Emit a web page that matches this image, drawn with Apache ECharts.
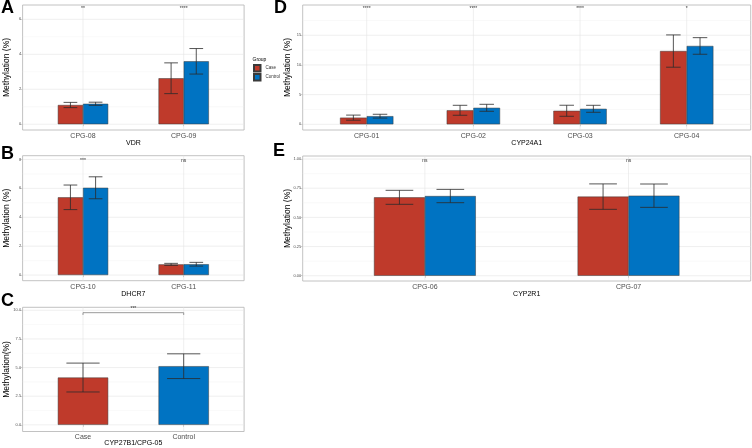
<!DOCTYPE html>
<html><head><meta charset="utf-8">
<script src="https://cdn.jsdelivr.net/npm/echarts@6/dist/echarts.min.js"></script>
<style>html,body{margin:0;padding:0;background:#fff}#c{width:752px;height:448px}</style>
</head><body><div id="c"></div>
<script>
// ---------- DATA ----------
// Panel A: VDR
const catsA = ['CPG-08', 'CPG-09'];
const caseA = [1.10, 2.63];
const caseErrA = [0.15, 0.88];
const ctrlA = [1.17, 3.60];
const ctrlErrA = [0.09, 0.73];
const sigA = ['**', '****'];
const yTicksA = [0, 2, 4, 6];
const yMinorA = [1, 3, 5];
// Panel B: DHCR7
const catsB = ['CPG-10', 'CPG-11'];
const caseB = [5.38, 0.74];
const caseErrB = [0.85, 0.07];
const ctrlB = [6.04, 0.75];
const ctrlErrB = [0.76, 0.13];
const sigB = ['***', 'ns'];
const yTicksB = [0, 2, 4, 6, 8];
const yMinorB = [1, 3, 5, 7];
// Panel C: CYP27B1/CPG-05
const catsC = ['Case', 'Control'];
const valsC = [4.13, 5.12];
const errC = [1.26, 1.08];
const sigC = ['***'];
const yTicksC = [0, 2.5, 5, 7.5, 10];
const yMinorC = [1.25, 3.75, 6.25, 8.75];
// Panel D: CYP24A1
const catsD = ['CPG-01', 'CPG-02', 'CPG-03', 'CPG-04'];
const caseD = [1.12, 2.36, 2.28, 12.34];
const caseErrD = [0.43, 0.84, 0.93, 2.72];
const ctrlD = [1.37, 2.78, 2.61, 13.2];
const ctrlErrD = [0.32, 0.59, 0.59, 1.40];
const sigD = ['****', '****', '****', '*'];
const yTicksD = [0, 5, 10, 15];
const yMinorD = [2.5, 7.5, 12.5, 17.5];
// Panel E: CYP2R1
const catsE = ['CPG-06', 'CPG-07'];
const caseE = [0.672, 0.678];
const caseErrE = [0.060, 0.109];
const ctrlE = [0.683, 0.686];
const ctrlErrE = [0.057, 0.100];
const sigE = ['ns', 'ns'];
const yTicksE = [0, 0.25, 0.5, 0.75, 1];
const yMinorE = [0.125, 0.375, 0.625, 0.875];

// ---------- LAYOUT / STYLE ----------
const FF = '"Liberation Sans", Arial, Helvetica, sans-serif';
const RED = '#BF3A2B', BLUE = '#0073C2';
const panels = [
  {letter:'A', cats:catsA, gene:'VDR', yName:'Methylation (%)', groups:[{name:'Case',vals:caseA,err:caseErrA,color:RED},{name:'Control',vals:ctrlA,err:ctrlErrA,color:BLUE}],
   sig:sigA, ticks:yTicksA, minor:yMinorA, dec:0, box:[22.6,5,221.5,125], yMin:-0.33, yMax:6.82, sigY:6.62, yNameGap:11.3, xNameGap:9.5, letterPos:[1,-1]},
  {letter:'B', cats:catsB, gene:'DHCR7', yName:'Methylation (%)', groups:[{name:'Case',vals:caseB,err:caseErrB,color:RED},{name:'Control',vals:ctrlB,err:ctrlErrB,color:BLUE}],
   sig:sigB, ticks:yTicksB, minor:yMinorB, dec:0, box:[22.6,155.7,221.5,125], yMin:-0.39, yMax:8.26, sigY:7.95, yNameGap:11.3, xNameGap:9.5, letterPos:[1,145]},
  {letter:'C', cats:catsC, gene:'CYP27B1/CPG-05', yName:'Methylation(%)', single:{vals:valsC,err:errC,colors:[RED,BLUE]},
   sig:[], ticks:yTicksC, minor:yMinorC, dec:1, box:[22.6,307.3,221.5,125.4], yMin:-0.58, yMax:10.26, yNameGap:11.3, xNameGap:8.5, letterPos:[1,292],
   bracket:{from:1,to:2,y:9.79,tick:0.2,labelY:10.15,label:sigC[0]}},
  {letter:'D', cats:catsD, gene:'CYP24A1', yName:'Methylation (%)', groups:[{name:'Case',vals:caseD,err:caseErrD,color:RED},{name:'Control',vals:ctrlD,err:ctrlErrD,color:BLUE}],
   sig:sigD, ticks:yTicksD, minor:yMinorD, dec:0, box:[302.7,5,448,125], yMin:-0.96, yMax:20.1, sigY:19.5, yNameGap:10.2, xNameGap:9.5, letterPos:[274,-1]},
  {letter:'E', cats:catsE, gene:'CYP2R1', yName:'Methylation (%)', groups:[{name:'Case',vals:caseE,err:caseErrE,color:RED},{name:'Control',vals:ctrlE,err:ctrlErrE,color:BLUE}],
   sig:sigE, ticks:yTicksE, minor:yMinorE, dec:2, box:[302.7,156,448,125], yMin:-0.045, yMax:1.026, sigY:0.985, yNameGap:10.2, xNameGap:9.5, letterPos:[273,142]}
];

const chart = echarts.init(document.getElementById('c'), null, {renderer:'canvas'});
const grid = [], xAxis = [], yAxis = [], series = [], title = [];
const TICKC = '#b3b3b3', TEXTC = '#4d4d4d', ERRC = '#2b2b2b';

panels.forEach((p, i) => {
  const pos = p.cats.map((c, j) => j + 1);
  const xMin = 0.4, xMax = p.cats.length + 0.6;
  grid.push({left:p.box[0], top:p.box[1], width:p.box[2], height:p.box[3], show:true,
    borderColor:'#b3b3b3', borderWidth:0.8, backgroundColor:'rgba(0,0,0,0)', containLabel:false});
  xAxis.push({type:'value', gridIndex:i, min:xMin, max:xMax,
    axisLine:{show:false}, splitLine:{show:false},
    axisTick:{show:true, customValues:pos, length:2, lineStyle:{color:TICKC, width:0.6}},
    axisLabel:{show:true, customValues:pos, formatter:v => p.cats[Math.round(v) - 1], fontSize:7, color:TEXTC, margin:2.5, fontFamily:FF},
    name:p.gene, nameLocation:'middle', nameGap:p.xNameGap, nameMoveOverlap:false,
    nameTextStyle:{fontSize:7, color:'#000', fontFamily:FF}});
  yAxis.push({type:'value', gridIndex:i, min:p.yMin, max:p.yMax,
    axisLine:{show:false}, splitLine:{show:false},
    axisTick:{show:true, customValues:p.ticks, length:2, lineStyle:{color:TICKC, width:0.6}},
    axisLabel:{show:true, customValues:p.ticks, formatter:v => Number(v).toFixed(p.dec), fontSize:4, color:TEXTC, margin:1.5, fontFamily:FF},
    name:p.yName, nameLocation:'middle', nameGap:p.yNameGap, nameMoveOverlap:false,
    nameTextStyle:{fontSize:8.5, color:'#000', fontFamily:FF}});

  // grid lines (through the axis scales)
  const gl = [].concat(p.minor.map(v => [0, v, 0]), p.ticks.map(v => [0, v, 1]), pos.map(v => [1, v, 1]));
  series.push({type:'custom', xAxisIndex:i, yAxisIndex:i, data:gl, z:0, silent:true, animation:false,
    renderItem:(params, api) => {
      const o = api.value(0), v = api.value(1), major = api.value(2);
      const a = o === 0 ? api.coord([xMin, v]) : api.coord([v, p.yMin]);
      const b = o === 0 ? api.coord([xMax, v]) : api.coord([v, p.yMax]);
      return {type:'line', shape:{x1:a[0], y1:a[1], x2:b[0], y2:b[1]},
        style:{stroke: major ? '#e4e4e4' : '#f1f1f1', lineWidth: major ? 0.6 : 0.4}};
    }});

  if (p.groups) {
    const offs = [-0.125, 0.125];
    p.groups.forEach((g, k) => {
      series.push({type:'bar', name:g.name, xAxisIndex:i, yAxisIndex:i, z:2, animation:false,
        data:pos.map((x, j) => [x, g.vals[j]]), barWidth:'25%', barGap:'0%',
        itemStyle:{color:g.color, borderColor:'#3a3a3a', borderWidth:0.5},
        emphasis:{disabled:true}});
      series.push({type:'custom', xAxisIndex:i, yAxisIndex:i, z:3, silent:true, animation:false,
        data:pos.map((x, j) => [x + offs[k], g.vals[j], g.err[j]]),
        renderItem:(params, api) => errBar(api, 0.068)});
    });
  } else {
    const s = p.single;
    series.push({type:'bar', name:'single', xAxisIndex:i, yAxisIndex:i, z:2, animation:false,
      data:pos.map((x, j) => ({value:[x, s.vals[j]], itemStyle:{color:s.colors[j]}})), barWidth:'50%',
      itemStyle:{borderColor:'#3a3a3a', borderWidth:0.5}, emphasis:{disabled:true}});
    series.push({type:'custom', xAxisIndex:i, yAxisIndex:i, z:3, silent:true, animation:false,
      data:pos.map((x, j) => [x, s.vals[j], s.err[j]]),
      renderItem:(params, api) => errBar(api, 0.165)});
  }

  if (p.sig.length) {
    series.push({type:'custom', xAxisIndex:i, yAxisIndex:i, z:4, silent:true, animation:false,
      data:pos.map((x, j) => [x, p.sigY, j]),
      renderItem:(params, api) => {
        const c = api.coord([api.value(0), api.value(1)]);
        return {type:'text', x:c[0], y:c[1], style:{text:p.sig[api.value(2)], fontSize:5, fill:'#333', align:'center', verticalAlign:'middle', fontFamily:FF}};
      }});
  }
  if (p.bracket) {
    const br = p.bracket;
    series.push({type:'custom', xAxisIndex:i, yAxisIndex:i, z:4, silent:true, animation:false,
      data:[[br.from, br.to, br.y]],
      renderItem:(params, api) => {
        const a = api.coord([api.value(0), api.value(2)]);
        const b = api.coord([api.value(1), api.value(2)]);
        const a2 = api.coord([api.value(0), api.value(2) - br.tick]);
        const b2 = api.coord([api.value(1), api.value(2) - br.tick]);
        const t = api.coord([(api.value(0) + api.value(1)) / 2, br.labelY]);
        const st = {stroke:'#707070', lineWidth:0.7, fill:null};
        return {type:'group', children:[
          {type:'polyline', shape:{points:[a2, a, b, b2]}, style:st},
          {type:'text', x:t[0], y:t[1], style:{text:br.label, fontSize:5, fill:'#333', align:'center', verticalAlign:'middle', fontFamily:FF}}
        ]};
      }});
  }

  title.push({text:p.letter, left:p.letterPos[0], top:p.letterPos[1], padding:0,
    textStyle:{fontSize:18, fontWeight:'bold', color:'#000', fontFamily:FF}});
});

function errBar(api, half) {
  const x = api.value(0), m = api.value(1), e = api.value(2);
  const top = api.coord([x, m + e]), bot = api.coord([x, m - e]);
  const l1 = api.coord([x - half, m + e]), r1 = api.coord([x + half, m + e]);
  const l2 = api.coord([x - half, m - e]), r2 = api.coord([x + half, m - e]);
  const st = {stroke:ERRC, lineWidth:0.8};
  return {type:'group', children:[
    {type:'line', shape:{x1:top[0], y1:top[1], x2:bot[0], y2:bot[1]}, style:st},
    {type:'line', shape:{x1:l1[0], y1:l1[1], x2:r1[0], y2:r1[1]}, style:st},
    {type:'line', shape:{x1:l2[0], y1:l2[1], x2:r2[0], y2:r2[1]}, style:st}
  ]};
}

title.push({text:'Group', left:252.5, top:57.5, padding:0, textStyle:{fontSize:5, fontWeight:'normal', color:'#000', fontFamily:FF}});

chart.setOption({
  animation:false,
  backgroundColor:'#fff',
  title:title,
  legend:{data:['Case', 'Control'], orient:'vertical', left:253, top:64, padding:0,
    itemWidth:6.5, itemHeight:6.5, itemGap:0.5, icon:'rect',
    textStyle:{fontSize:4.5, color:'#333', fontFamily:FF}, selectedMode:false},
  grid:grid, xAxis:xAxis, yAxis:yAxis, series:series
});
</script></body></html>
